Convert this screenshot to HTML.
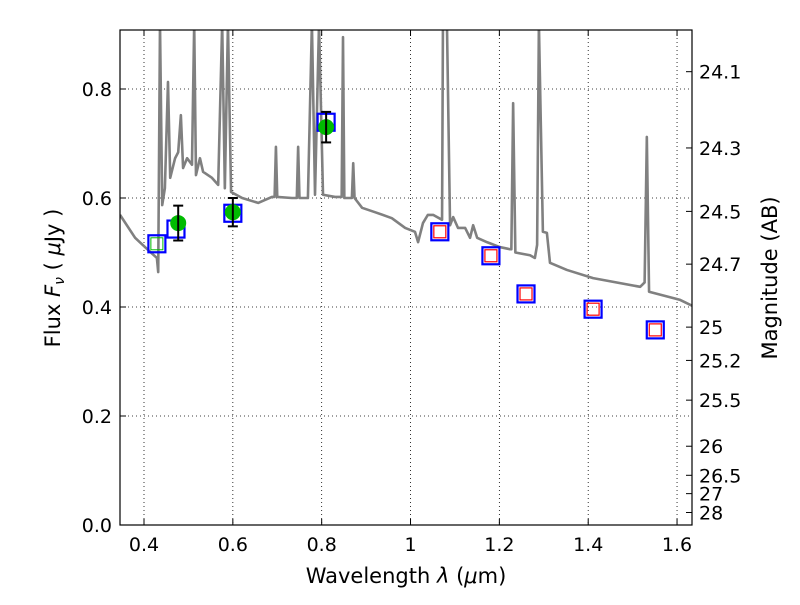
<!DOCTYPE html>
<html><head><meta charset="utf-8"><style>
body{margin:0;background:#fff}
svg text{font-family:"DejaVu Sans","Liberation Sans",sans-serif;fill:#000}
</style></head><body>
<svg id="c" width="800" height="600">
<g id="grid"></g>
<g id="plot"></g>
<g id="axes"></g>
<text x="406" y="583" font-size="21" text-anchor="middle">Wavelength  <tspan font-style="italic">λ</tspan> (<tspan font-style="italic">μ</tspan>m)</text>
<text transform="translate(60,278) rotate(-90)" font-size="21" text-anchor="middle">Flux  <tspan font-style="italic">F<tspan font-size="14" dy="4">ν</tspan></tspan><tspan dy="-4">  ( </tspan><tspan font-style="italic">μ</tspan>Jy )</text>
<text transform="translate(777,278) rotate(-90)" font-size="21" text-anchor="middle">Magnitude (AB)</text>
</svg>
<script>
// spectrum points as (wavelength µm, flux µJy)
const specPts=[[0.346,0.569],[0.380,0.527],[0.414,0.501],[0.429,0.490],[0.432,0.464],[0.436,0.92],[0.441,0.587],[0.447,0.618],[0.454,0.813],[0.459,0.637],[0.470,0.673],[0.477,0.684],[0.483,0.752],[0.488,0.655],[0.497,0.673],[0.508,0.661],[0.513,0.92],[0.517,0.642],[0.526,0.673],[0.533,0.648],[0.553,0.637],[0.567,0.624],[0.576,0.92],[0.582,0.618],[0.589,0.92],[0.596,0.611],[0.621,0.600],[0.657,0.591],[0.688,0.602],[0.694,0.602],[0.697,0.694],[0.700,0.602],[0.733,0.600],[0.744,0.600],[0.747,0.694],[0.750,0.600],[0.769,0.600],[0.778,0.92],[0.785,0.606],[0.794,0.92],[0.803,0.606],[0.830,0.602],[0.845,0.602],[0.848,0.895],[0.851,0.600],[0.868,0.600],[0.871,0.664],[0.874,0.600],[0.891,0.582],[0.920,0.574],[0.958,0.563],[0.988,0.545],[1.010,0.538],[1.017,0.519],[1.028,0.554],[1.039,0.569],[1.051,0.569],[1.071,0.560],[1.073,0.92],[1.082,0.92],[1.089,0.550],[1.096,0.565],[1.107,0.545],[1.123,0.545],[1.134,0.527],[1.141,0.550],[1.150,0.527],[1.172,0.519],[1.201,0.510],[1.224,0.506],[1.227,0.506],[1.231,0.774],[1.236,0.500],[1.269,0.495],[1.280,0.490],[1.285,0.514],[1.289,0.92],[1.298,0.538],[1.307,0.536],[1.314,0.481],[1.352,0.468],[1.411,0.453],[1.517,0.437],[1.527,0.445],[1.532,0.712],[1.537,0.428],[1.607,0.413],[1.640,0.400]];
const blueLam=[0.429,0.472,0.600,0.810,1.066,1.181,1.260,1.411,1.551];
const blueFlux=[0.516,0.543,0.572,0.739,0.538,0.494,0.424,0.396,0.358];
const greenSqLam=[0.429];
const greenSqFlux=[0.516];
const redLam=[1.066,1.181,1.260,1.411,1.551];
const redFlux=[0.538,0.494,0.424,0.396,0.358];
const ptLam=[0.477,0.600,0.810];
const ptFlux=[0.554,0.574,0.730];
const ptErr=[0.032,0.026,0.028];
const xTicks=[0.4,0.6,0.8,1.0,1.2,1.4,1.6];
const xTickLabels=["0.4","0.6","0.8","1","1.2","1.4","1.6"];
const yTicks=[0,0.2,0.4,0.6,0.8];
const yTickLabels=["0.0","0.2","0.4","0.6","0.8"];
const magTicks=[24.1,24.3,24.5,24.7,25,25.2,25.5,26,26.5,27,28];
const magTickLabels=["24.1","24.3","24.5","24.7","25","25.2","25.5","26","26.5","27","28"];

const L=120,R=692,T=30,B=525;
const X=v=>144+(v-0.4)*444.2;
const Y=v=>525-v*545;
const NS="http://www.w3.org/2000/svg";
function mk(tag,attrs,parent){const e=document.createElementNS(NS,tag);for(const k in attrs)e.setAttribute(k,attrs[k]);parent.appendChild(e);return e;}
const grid=document.getElementById('grid'),plot=document.getElementById('plot'),axes=document.getElementById('axes');

const defs=mk('defs',{},document.getElementById('c'));
const cp=mk('clipPath',{id:'clip'},defs);mk('rect',{x:L,y:T,width:R-L,height:B-T},cp);
plot.setAttribute('clip-path','url(#clip)');

xTicks.forEach((v,i)=>{
 const g=mk('line',{x1:X(v),x2:X(v),y1:T,y2:B,stroke:'#000','stroke-width':0.8,'stroke-dasharray':'1,3'},grid);
 
 
 const t=mk('line',{x1:X(v),x2:X(v),y1:B,y2:B-6,stroke:'#000'},axes);
 
 
 mk('line',{x1:X(v),x2:X(v),y1:T,y2:T+6,stroke:'#000'},axes);
 const l=mk('text',{x:X(v),y:B+26,'font-size':19,'text-anchor':'middle'},axes);l.textContent=xTickLabels[i];
 
 
});
yTicks.forEach((v,i)=>{
 const g=mk('line',{x1:L,x2:R,y1:Y(v),y2:Y(v),stroke:'#000','stroke-width':0.8,'stroke-dasharray':'1,3'},grid);
 
 
 const t=mk('line',{x1:L,x2:L+6,y1:Y(v),y2:Y(v),stroke:'#000'},axes);
 
 
 const l=mk('text',{x:L-8,y:Y(v)+7,'font-size':19,'text-anchor':'end'},axes);l.textContent=yTickLabels[i];
 
 
});
magTicks.forEach((m,i)=>{
 const f=Math.pow(10,(23.9-m)/2.5);
 const t=mk('line',{x1:R-6,x2:R,y1:Y(f),y2:Y(f),stroke:'#000'},axes);
 
 
 const l=mk('text',{x:R+7,y:Y(f)+7,'font-size':19},axes);l.textContent=magTickLabels[i];
 
 
});

const sp=mk('polyline',{points:specPts.map(p=>X(p[0])+','+Y(p[1])).join(' '),fill:'none',stroke:'#808080','stroke-width':2.6,'stroke-linejoin':'round'},plot);



blueLam.forEach((v,i)=>{
 const r=mk('rect',{x:X(v)-8.5,y:Y(blueFlux[i])-8.5,width:17,height:17,fill:'none',stroke:'#0000ff','stroke-width':2.2},plot);
 
 
});
greenSqLam.forEach((v,i)=>{
 const r=mk('rect',{x:X(v)-6,y:Y(greenSqFlux[i])-6,width:12,height:12,fill:'none',stroke:'#00bb00','stroke-width':1},plot);
 
 
});
redLam.forEach((v,i)=>{
 const r=mk('rect',{x:X(v)-6,y:Y(redFlux[i])-6,width:12,height:12,fill:'none',stroke:'#ff0000','stroke-width':1.2},plot);
 
 
});
ptLam.forEach((v,i)=>{
 const x=X(v),y1=Y(ptFlux[i]+ptErr[i]),y2=Y(ptFlux[i]-ptErr[i]);
 const g=mk('g',{},plot);
 
 
 mk('circle',{cx:x,cy:Y(ptFlux[i]),r:8,fill:'#00bb00'},g);
 mk('line',{x1:x,x2:x,y1:y1,y2:y2,stroke:'#000','stroke-width':2},g);
 mk('line',{x1:x-5,x2:x+5,y1:y1,y2:y1,stroke:'#000','stroke-width':2},g);
 mk('line',{x1:x-5,x2:x+5,y1:y2,y2:y2,stroke:'#000','stroke-width':2},g);
});
const fr=mk('rect',{x:L,y:T,width:R-L,height:B-T,fill:'none',stroke:'#000','stroke-width':1.2},axes);


</script>
</body></html>
